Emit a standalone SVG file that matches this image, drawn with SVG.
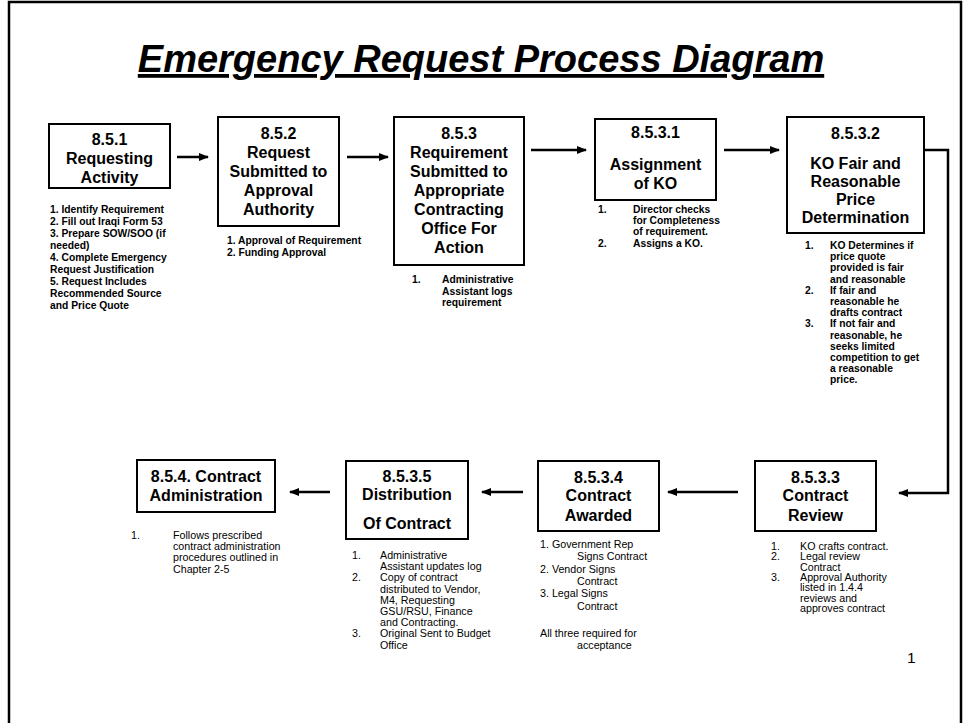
<svg xmlns="http://www.w3.org/2000/svg" width="963" height="723" viewBox="0 0 963 723">
<style>
text{font-family:"Liberation Sans",Arial,sans-serif;fill:#000}
.box{fill:#fff;stroke:#000;stroke-width:2}
.h{font-size:16px;font-weight:bold;text-anchor:middle}
.lb{font-size:10.3px;font-weight:bold}
.lr{font-size:10.7px}
.con{fill:none;stroke:#000;stroke-width:2.5}
</style>
<defs>
<marker id="ah" markerWidth="10" markerHeight="10" refX="9" refY="4.5" orient="auto" markerUnits="userSpaceOnUse">
<path d="M0,0.5 L10,4.5 L0,8.5 Z" fill="#000"/>
</marker>
</defs>
<rect width="963" height="723" fill="#fff"/>
<path d="M9,723 V2 H961 V723" fill="none" stroke="#000" stroke-width="2.5"/>
<text x="481" y="72" text-anchor="middle" style="font-size:38px;font-weight:bold;font-style:italic;text-decoration:underline">Emergency Request Process Diagram</text>

<g id="connectors">
<line class="con" x1="177" y1="157" x2="208" y2="157" marker-end="url(#ah)"/>
<line class="con" x1="347" y1="157" x2="388" y2="157" marker-end="url(#ah)"/>
<line class="con" x1="531" y1="150" x2="586" y2="150" marker-end="url(#ah)"/>
<line class="con" x1="724" y1="150" x2="779" y2="150" marker-end="url(#ah)"/>
<path class="con" d="M924,150 H948 V493 H899" marker-end="url(#ah)"/>
<line class="con" x1="738" y1="492" x2="668" y2="492" marker-end="url(#ah)"/>
<line class="con" x1="523" y1="492" x2="482" y2="492" marker-end="url(#ah)"/>
<line class="con" x1="330" y1="492" x2="290" y2="492" marker-end="url(#ah)"/>
</g>

<g id="n851">
<rect class="box" x="49" y="124" width="121" height="64"/>
<text class="h" x="109.5" y="144.5">8.5.1</text>
<text class="h" x="109.5" y="163.5">Requesting</text>
<text class="h" x="109.5" y="182.5">Activity</text>
<text class="lb" x="50" y="213">1. Identify Requirement</text>
<text class="lb" x="50" y="225">2. Fill out Iraqi Form 53</text>
<text class="lb" x="50" y="237">3. Prepare SOW/SOO (if</text>
<text class="lb" x="50" y="249">needed)</text>
<text class="lb" x="50" y="261">4. Complete Emergency</text>
<text class="lb" x="50" y="273">Request Justification</text>
<text class="lb" x="50" y="285">5.  Request Includes</text>
<text class="lb" x="50" y="297">Recommended Source</text>
<text class="lb" x="50" y="309">and Price Quote</text>
</g>

<g id="n852">
<rect class="box" x="218" y="117" width="121" height="109"/>
<text class="h" x="278.5" y="139">8.5.2</text>
<text class="h" x="278.5" y="158">Request</text>
<text class="h" x="278.5" y="177">Submitted to</text>
<text class="h" x="278.5" y="196">Approval</text>
<text class="h" x="278.5" y="215">Authority</text>
<text class="lb" x="227" y="244">1. Approval of Requirement</text>
<text class="lb" x="227" y="256">2. Funding Approval</text>
</g>

<g id="n853">
<rect class="box" x="394" y="117" width="130" height="148"/>
<text class="h" x="459" y="139">8.5.3</text>
<text class="h" x="459" y="158">Requirement</text>
<text class="h" x="459" y="177">Submitted to</text>
<text class="h" x="459" y="196">Appropriate</text>
<text class="h" x="459" y="215">Contracting</text>
<text class="h" x="459" y="234">Office For</text>
<text class="h" x="459" y="253">Action</text>
<text class="lb" x="412" y="283">1.</text>
<text class="lb" x="442" y="283">Administrative</text>
<text class="lb" x="442" y="294.5">Assistant logs</text>
<text class="lb" x="442" y="306">requirement</text>
</g>

<g id="n8531">
<rect class="box" x="595" y="119" width="121" height="81"/>
<text class="h" x="655.5" y="138">8.5.3.1</text>
<text class="h" x="655.5" y="170">Assignment</text>
<text class="h" x="655.5" y="189">of KO</text>
<text class="lb" x="598" y="213">1.</text>
<text class="lb" x="633" y="213">Director checks</text>
<text class="lb" x="633" y="224.2">for Completeness</text>
<text class="lb" x="633" y="235.4">of requirement.</text>
<text class="lb" x="598" y="246.6">2.</text>
<text class="lb" x="633" y="246.6">Assigns a KO.</text>
</g>

<g id="n8532">
<rect class="box" x="787" y="117" width="137" height="116"/>
<text class="h" x="855.5" y="139">8.5.3.2</text>
<text class="h" x="855.5" y="169">KO Fair and</text>
<text class="h" x="855.5" y="187">Reasonable</text>
<text class="h" x="855.5" y="205">Price</text>
<text class="h" x="855.5" y="223">Determination</text>
<text class="lb" x="805" y="249">1.</text>
<text class="lb" x="830" y="249">KO Determines if</text>
<text class="lb" x="830" y="260.2">price quote</text>
<text class="lb" x="830" y="271.4">provided is fair</text>
<text class="lb" x="830" y="282.6">and reasonable</text>
<text class="lb" x="805" y="293.8">2.</text>
<text class="lb" x="830" y="293.8">If fair and</text>
<text class="lb" x="830" y="305">reasonable he</text>
<text class="lb" x="830" y="316.2">drafts contract</text>
<text class="lb" x="805" y="327.4">3.</text>
<text class="lb" x="830" y="327.4">If not fair and</text>
<text class="lb" x="830" y="338.6">reasonable, he</text>
<text class="lb" x="830" y="349.8">seeks limited</text>
<text class="lb" x="830" y="361">competition  to get</text>
<text class="lb" x="830" y="372.2">a reasonable</text>
<text class="lb" x="830" y="383.4">price.</text>
</g>

<g id="n8533">
<rect class="box" x="755" y="461" width="121" height="70"/>
<text class="h" x="815.5" y="483">8.5.3.3</text>
<text class="h" x="815.5" y="501">Contract</text>
<text class="h" x="815.5" y="521">Review</text>
<text class="lr" x="771" y="550">1.</text>
<text class="lr" x="800" y="550">KO crafts contract.</text>
<text class="lr" x="771" y="560.3">2.</text>
<text class="lr" x="800" y="560.3">Legal review</text>
<text class="lr" x="800" y="570.6">Contract</text>
<text class="lr" x="771" y="580.9">3.</text>
<text class="lr" x="800" y="580.9">Approval Authority</text>
<text class="lr" x="800" y="591.2">listed in 1.4.4</text>
<text class="lr" x="800" y="601.5">reviews and</text>
<text class="lr" x="800" y="611.8">approves contract</text>
</g>

<g id="n8534">
<rect class="box" x="538" y="461" width="121" height="70"/>
<text class="h" x="598.5" y="483">8.5.3.4</text>
<text class="h" x="598.5" y="501">Contract</text>
<text class="h" x="598.5" y="521">Awarded</text>
<text class="lr" x="540" y="548">1.  Government Rep</text>
<text class="lr" x="577" y="560.3">Signs Contract</text>
<text class="lr" x="540" y="572.6">2.  Vendor Signs</text>
<text class="lr" x="577" y="584.9">Contract</text>
<text class="lr" x="540" y="597.2">3.  Legal Signs</text>
<text class="lr" x="577" y="609.5">Contract</text>
<text class="lr" x="540" y="637">All three required for</text>
<text class="lr" x="577" y="649.3">acceptance</text>
</g>

<g id="n8535">
<rect class="box" x="346" y="461" width="122" height="78"/>
<text class="h" x="407" y="482">8.5.3.5</text>
<text class="h" x="407" y="500">Distribution</text>
<text class="h" x="407" y="529">Of Contract</text>
<text class="lr" x="352" y="559">1.</text>
<text class="lr" x="380" y="559">Administrative</text>
<text class="lr" x="380" y="570.2">Assistant updates log</text>
<text class="lr" x="352" y="581.4">2.</text>
<text class="lr" x="380" y="581.4">Copy of contract</text>
<text class="lr" x="380" y="592.6">distributed to Vendor,</text>
<text class="lr" x="380" y="603.8">M4, Requesting</text>
<text class="lr" x="380" y="615">GSU/RSU, Finance</text>
<text class="lr" x="380" y="626.2">and  Contracting.</text>
<text class="lr" x="352" y="637.4">3.</text>
<text class="lr" x="380" y="637.4">Original Sent to Budget</text>
<text class="lr" x="380" y="648.6">Office</text>
</g>

<g id="n854">
<rect class="box" x="137" y="460" width="138" height="52"/>
<text class="h" x="206" y="482">8.5.4. Contract</text>
<text class="h" x="206" y="501">Administration</text>
<text class="lr" x="131" y="539">1.</text>
<text class="lr" x="173" y="539">Follows prescribed</text>
<text class="lr" x="173" y="550.2">contract administration</text>
<text class="lr" x="173" y="561.4">procedures outlined in</text>
<text class="lr" x="173" y="572.6">Chapter 2-5</text>
</g>

<text x="907" y="663" style="font-size:15.5px">1</text>
</svg>
